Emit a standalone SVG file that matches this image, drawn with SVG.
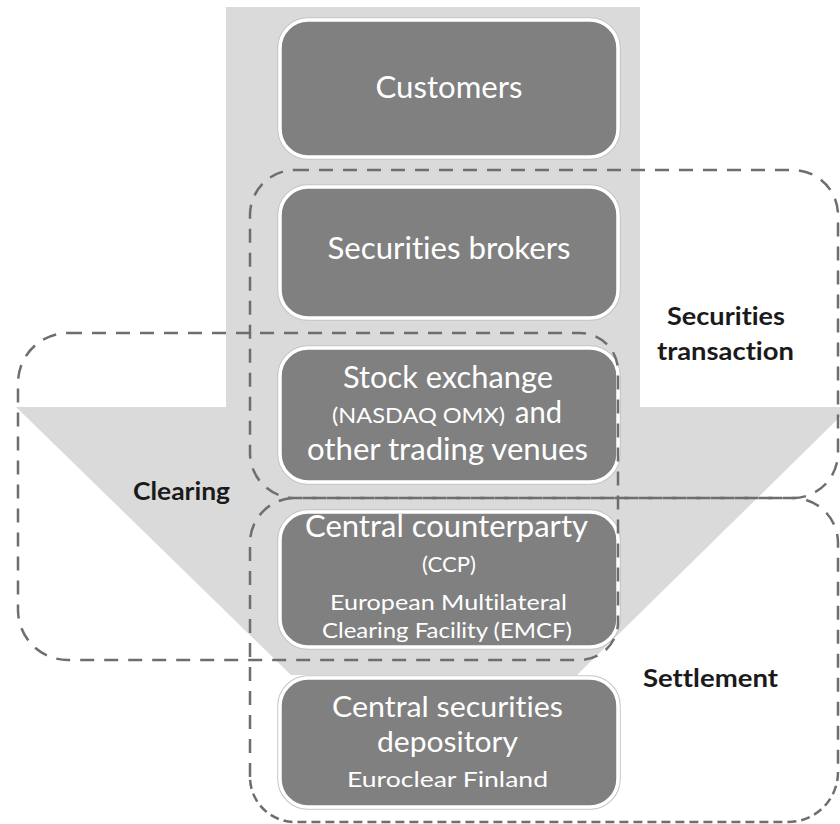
<svg xmlns="http://www.w3.org/2000/svg" width="840" height="824" viewBox="0 0 840 824">
  <style>
    .bg { fill: #ffffff; }
    .arrow { fill: #dadada; }
    .box { fill: #808080; stroke: #ffffff; stroke-width: 3.5; }
    .halo { fill: none; stroke: #c4c4c4; stroke-width: 1.5; }
    .t { fill: #ffffff; font-family: Lato, "Open Sans", "Liberation Sans", sans-serif; text-anchor: middle; font-variant-ligatures: none; }
    .big { font-size: 31px; }
    .mid { font-size: 29px; }
    .small { font-size: 21px; }
    .lbl { fill: #1a1a1a; font-family: Lato, "Open Sans", "Liberation Sans", sans-serif; font-weight: bold; font-size: 24px; text-anchor: middle; font-variant-ligatures: none; }
    .dash { fill: none; stroke: #6e6e6e; stroke-width: 2.5; stroke-dasharray: 14 10; }
    .dashfine { fill: none; stroke: #6e6e6e; stroke-width: 2.5; stroke-dasharray: 9 5; }
  </style>
  <rect class="bg" x="0" y="0" width="840" height="824"/>
  <g id="background">
    <polygon class="arrow" points="226,7 640,7 640,407 850,407 577,675 291,675 16,407 226,407"/>
  </g>

  <g id="node-customers">
    <rect class="halo" x="278" y="18" width="342" height="141" rx="30"/>
    <rect class="box" x="280" y="20" width="338" height="137" rx="28"/>
    <text class="t big" x="449" y="98" textLength="147" lengthAdjust="spacingAndGlyphs">Customers</text>
  </g>
  <g id="node-brokers">
    <rect class="halo" x="278" y="185" width="342" height="135" rx="30"/>
    <rect class="box" x="280" y="187" width="338" height="131" rx="28"/>
    <text class="t big" x="449" y="259" textLength="243" lengthAdjust="spacingAndGlyphs">Securities brokers</text>
  </g>
  <g id="node-exchange">
    <rect class="halo" x="278" y="346" width="342" height="138" rx="30"/>
    <rect class="box" x="280" y="348" width="338" height="134" rx="28"/>
    <text class="t big" x="448" y="388" textLength="210" lengthAdjust="spacingAndGlyphs">Stock exchange</text>
    <text class="t small" x="418.5" y="423" textLength="173" lengthAdjust="spacingAndGlyphs">(NASDAQ OMX)</text>
    <text class="t big" x="538.5" y="423" textLength="47" lengthAdjust="spacingAndGlyphs">and</text>
    <text class="t big" x="447.5" y="460" textLength="281" lengthAdjust="spacingAndGlyphs">other trading venues</text>
  </g>
  <g id="node-ccp">
    <rect class="halo" x="278" y="510" width="342" height="139" rx="30"/>
    <rect class="box" x="280" y="512" width="338" height="135" rx="28"/>
    <text class="t big" x="446.5" y="537" textLength="283" lengthAdjust="spacingAndGlyphs">Central counterparty</text>
    <text class="t small" x="449" y="572" textLength="54" lengthAdjust="spacingAndGlyphs">(CCP)</text>
    <text class="t small" x="448.5" y="610" textLength="237" lengthAdjust="spacingAndGlyphs">European Multilateral</text>
    <text class="t small" x="447" y="638" textLength="250" lengthAdjust="spacingAndGlyphs">Clearing Facility (EMCF)</text>
  </g>
  <g id="node-csd">
    <rect class="halo" x="278" y="676" width="342" height="133" rx="30"/>
    <rect class="box" x="280" y="678" width="338" height="129" rx="28"/>
    <text class="t mid" x="447.5" y="717" textLength="231" lengthAdjust="spacingAndGlyphs">Central securities</text>
    <text class="t mid" x="447.5" y="752" textLength="141" lengthAdjust="spacingAndGlyphs">depository</text>
    <text class="t small" x="447.5" y="787" textLength="201" lengthAdjust="spacingAndGlyphs">Euroclear Finland</text>
  </g>

  <g id="connectors">
    <path class="dash" d="M295,170 H793 A45,45 0 0 1 838,215 V453 A45,45 0 0 1 793,498 H295 A45,45 0 0 1 250,453 V215 A45,45 0 0 1 295,170 Z"/>
    <path class="dash" d="M68,333 H580 A38,38 0 0 1 618,371 V622 A38,38 0 0 1 580,660 H68 A50,50 0 0 1 18,610 V383 A50,50 0 0 1 68,333 Z"/>
    <path class="dash" d="M250,777 V543 A45,45 0 0 1 295,498 H793 A45,45 0 0 1 838,543 V772"/>
    <path class="dashfine" d="M838,772 A50,50 0 0 1 788,822 H295 A45,45 0 0 1 250,777"/>
  </g>

  <g id="labels">
    <text class="lbl" x="726" y="325" textLength="118" lengthAdjust="spacingAndGlyphs">Securities</text>
    <text class="lbl" x="725.5" y="360" textLength="137" lengthAdjust="spacingAndGlyphs">transaction</text>
    <text class="lbl" x="181.5" y="500" textLength="97" lengthAdjust="spacingAndGlyphs">Clearing</text>
    <text class="lbl" x="710.5" y="687" textLength="135" lengthAdjust="spacingAndGlyphs">Settlement</text>
  </g>
</svg>
